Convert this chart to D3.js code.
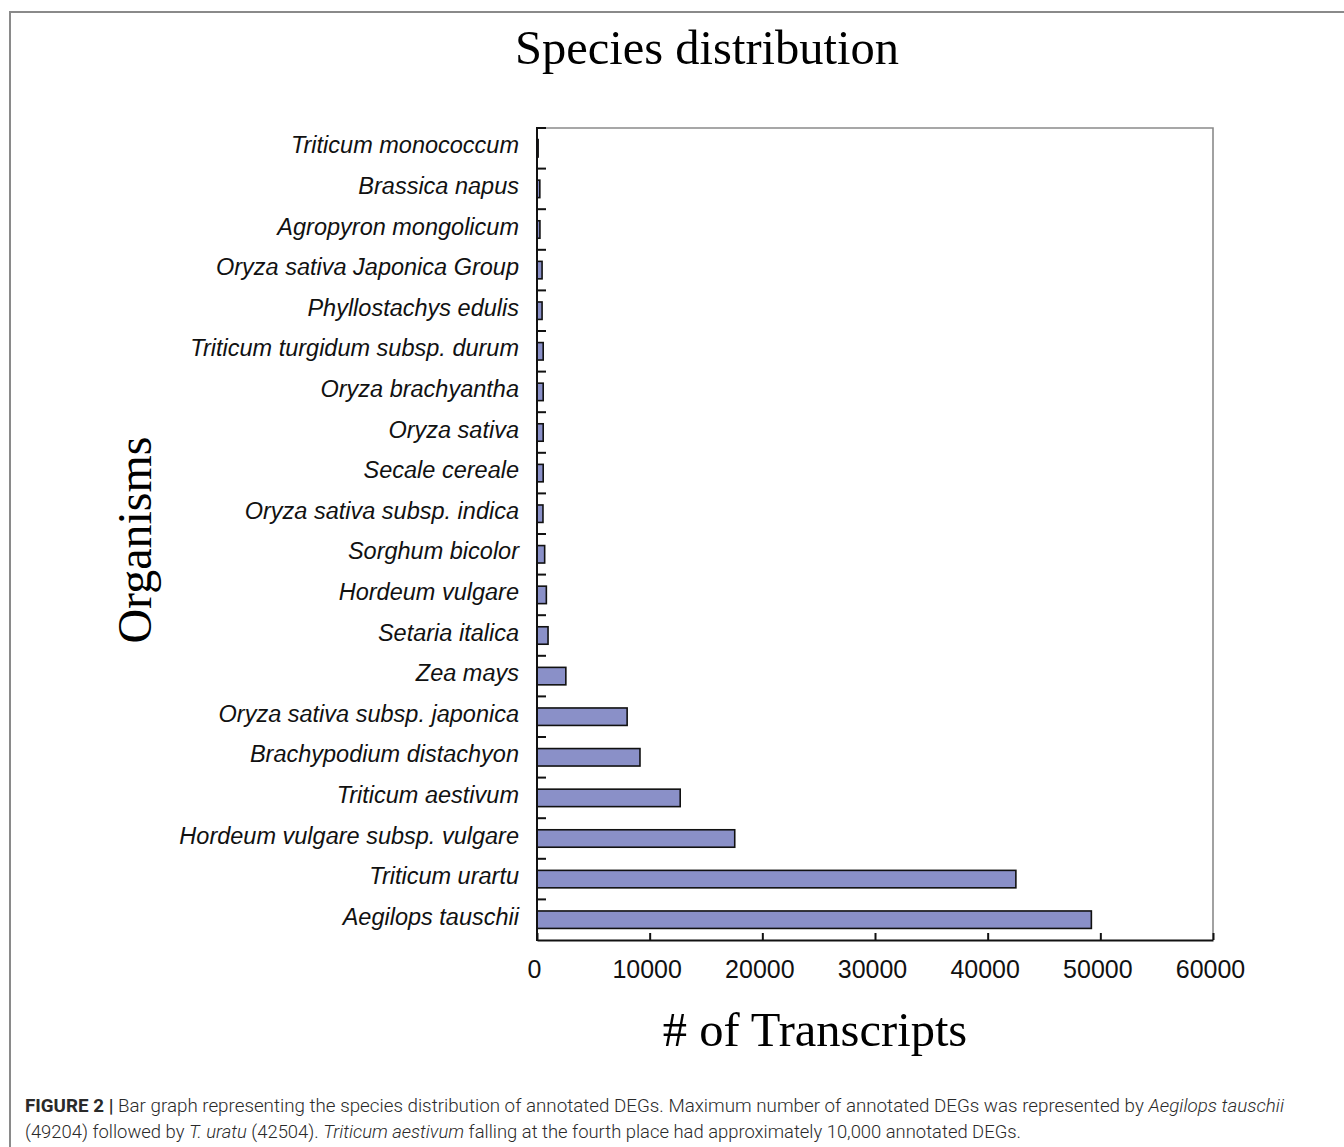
<!DOCTYPE html>
<html>
<head>
<meta charset="utf-8">
<script src="https://cdn.jsdelivr.net/npm/d3@7"></script>
<style>
  html, body { margin: 0; padding: 0; background: #fff; }
  svg { display: block; }
</style>
</head>
<body>
<svg id="chart" width="1344" height="1147"></svg>
<script>
// Organisms, listed top to bottom
const organisms = [
  "Triticum monococcum",
  "Brassica napus",
  "Agropyron mongolicum",
  "Oryza sativa Japonica Group",
  "Phyllostachys edulis",
  "Triticum turgidum subsp. durum",
  "Oryza brachyantha",
  "Oryza sativa",
  "Secale cereale",
  "Oryza sativa subsp. indica",
  "Sorghum bicolor",
  "Hordeum vulgare",
  "Setaria italica",
  "Zea mays",
  "Oryza sativa subsp. japonica",
  "Brachypodium distachyon",
  "Triticum aestivum",
  "Hordeum vulgare subsp. vulgare",
  "Triticum urartu",
  "Aegilops tauschii"
];

// Number of annotated transcripts per organism
const transcripts = [
  100, 250, 260, 450, 450, 550, 550, 550, 550, 530,
  680, 830, 980, 2560, 8000, 9140, 12710, 17550, 42504, 49204
];

// Transcript-count axis ticks
const xTicks = [0, 10000, 20000, 30000, 40000, 50000, 60000];

const rows = organisms.map((name, i) => ({ name, value: transcripts[i] }));

const svg = d3.select("#chart");
const plot = { left: 537, right: 1213, top: 128, bottom: 940 };

const x = d3.scaleLinear().domain([0, 60000]).range([plot.left, plot.right]);
const y = d3.scaleBand().domain(organisms).range([plot.top, plot.bottom])
  .paddingInner(0.57).paddingOuter(0.285);
const yBand = d3.scaleBand().domain(organisms).range([plot.top, plot.bottom]);

// Figure frame
svg.append("path")
  .attr("d", `M10,1147 V12 H1344`)
  .attr("fill", "none").attr("stroke", "#8a8a8a").attr("stroke-width", 2);

// Title
svg.append("text")
  .attr("x", 707).attr("y", 64)
  .attr("text-anchor", "middle")
  .attr("font-family", "Liberation Serif, serif")
  .attr("font-size", 48.5)
  .attr("fill", "#000")
  .text("Species distribution");

// Plot box: top and right edges in grey
svg.append("path")
  .attr("d", `M${plot.left},${plot.top} H${plot.right} V${plot.bottom}`)
  .attr("fill", "none").attr("stroke", "#8a8a8a").attr("stroke-width", 1.6);

// Bars
svg.append("g").selectAll("rect")
  .data(rows)
  .join("rect")
  .attr("x", x(0))
  .attr("y", d => y(d.name))
  .attr("width", d => Math.max(0.5, x(d.value) - x(0)))
  .attr("height", y.bandwidth())
  .attr("fill", "#8a90c8")
  .attr("stroke", "#111")
  .attr("stroke-width", 1.6);

// Y axis: ticks on band boundaries, pointing inward
const yAxisG = svg.append("g");
yAxisG.append("line")
  .attr("x1", plot.left).attr("x2", plot.left)
  .attr("y1", plot.top - 1).attr("y2", plot.bottom + 1)
  .attr("stroke", "#111").attr("stroke-width", 2);
yAxisG.selectAll("line.tick")
  .data(organisms)
  .join("line")
  .attr("class", "tick")
  .attr("x1", plot.left).attr("x2", plot.left + 9)
  .attr("y1", d => yBand(d)).attr("y2", d => yBand(d))
  .attr("stroke", "#111").attr("stroke-width", 2);
yAxisG.selectAll("text")
  .data(organisms)
  .join("text")
  .attr("x", plot.left - 18)
  .attr("y", d => yBand(d) + yBand.bandwidth() / 2 + 5)
  .attr("text-anchor", "end")
  .attr("font-family", "Liberation Sans, Arial, sans-serif")
  .attr("font-style", "italic")
  .attr("font-size", 23.5)
  .attr("fill", "#111")
  .text(d => d);

// X axis with inward ticks
const xAxis = d3.axisBottom(x).tickValues(xTicks).tickSize(-7).tickSizeOuter(0).tickPadding(12)
  .tickFormat(d3.format("d"));
const xAxisG = svg.append("g")
  .attr("transform", `translate(0,${plot.bottom})`)
  .call(xAxis);
xAxisG.select(".domain").attr("stroke", "#111").attr("stroke-width", 2);
xAxisG.selectAll(".tick line").attr("stroke", "#111").attr("stroke-width", 2);
xAxisG.selectAll(".tick text")
  .attr("font-family", "Liberation Sans, Arial, sans-serif")
  .attr("font-size", 25)
  .attr("fill", "#111")
  .attr("dy", null)
  .attr("x", -3)
  .attr("y", 38);

// Axis titles
svg.append("text")
  .attr("x", 815).attr("y", 1046)
  .attr("text-anchor", "middle")
  .attr("font-family", "Liberation Serif, serif")
  .attr("font-size", 48.5)
  .attr("fill", "#000")
  .text("# of Transcripts");

svg.append("text")
  .attr("transform", "translate(151,540) rotate(-90)")
  .attr("text-anchor", "middle")
  .attr("font-family", "Liberation Serif, serif")
  .attr("font-size", 48)
  .attr("fill", "#000")
  .text("Organisms");

// Caption
const cap = svg.append("g")
  .attr("font-family", "Roboto, Liberation Sans, sans-serif")
  .attr("font-size", 17.5)
  .attr("fill", "#2a2a2a");

const line1 = cap.append("text").attr("x", 25).attr("y", 1112)
  .attr("textLength", 1259).attr("lengthAdjust", "spacingAndGlyphs");
line1.append("tspan").attr("font-weight", "bold").text("FIGURE 2 | ");
line1.append("tspan").attr("font-weight", 300)
  .text("Bar graph representing the species distribution of annotated DEGs. Maximum number of annotated DEGs was represented by ");
line1.append("tspan").attr("font-weight", 300).attr("font-style", "italic").text("Aegilops tauschii");

const line2 = cap.append("text").attr("x", 25).attr("y", 1138)
  .attr("textLength", 996).attr("lengthAdjust", "spacingAndGlyphs");
line2.append("tspan").attr("font-weight", 300).text("(49204) followed by ");
line2.append("tspan").attr("font-weight", 300).attr("font-style", "italic").text("T. uratu");
line2.append("tspan").attr("font-weight", 300).text(" (42504). ");
line2.append("tspan").attr("font-weight", 300).attr("font-style", "italic").text("Triticum aestivum");
line2.append("tspan").attr("font-weight", 300).text(" falling at the fourth place had approximately 10,000 annotated DEGs.");
</script>
</body>
</html>
